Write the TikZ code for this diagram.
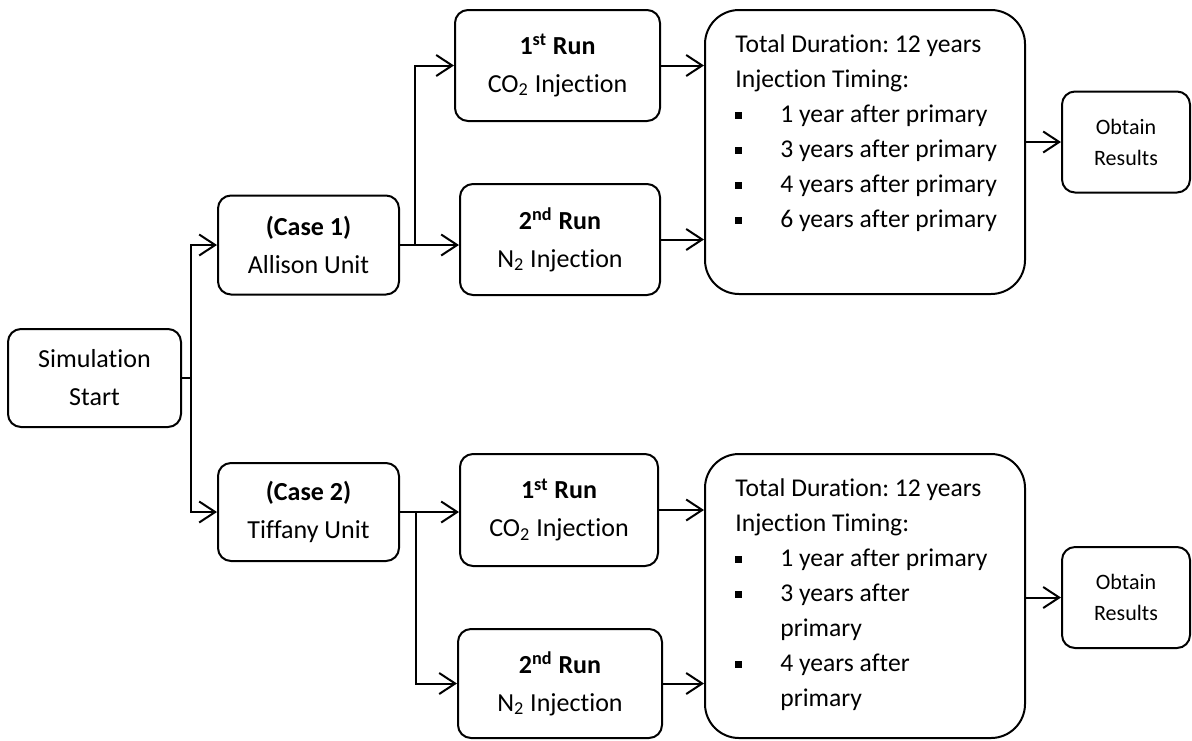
\documentclass[tikz,border=0pt]{standalone}
\usepackage{fontspec}
\setmainfont{Carlito}[Ligatures=CommonOff]
\usetikzlibrary{arrows.meta}
\frenchspacing

\newcommand{\tbul}{\makebox[22.5pt][l]{\rule[1.6pt]{3.4pt}{3.4pt}}}

\tikzset{
  stepbox/.style={draw, line width=1pt, rounded corners=6.5pt, align=center, inner sep=0pt,
    font=\fontsize{13}{19}\selectfont},
  timebox/.style={draw, line width=1pt, rounded corners=17pt, minimum width=160pt, minimum height=142pt},
  timetext/.style={align=left, inner sep=0pt, anchor=north west, font=\fontsize{12.8}{17.5}\selectfont},
  resbox/.style={stepbox, font=\fontsize{11}{15.5}\selectfont, minimum width=64pt, minimum height=50.5pt},
  flow/.style={->, line width=1pt, >={Straight Barb[length=8pt,width=10.5pt,line width=1pt]}}
}

\begin{document}
\begin{tikzpicture}[x=0.5pt,y=-0.5pt]
\useasboundingbox (0,0) rectangle (1192,740);
% start and the two cases
\node[stepbox, minimum width=86.5pt, minimum height=49pt] (start) at (94.5,378) {Simulation\\Start};
\node[stepbox, minimum width=90.5pt, minimum height=49.5pt] (case1) at (308.5,245) {\textbf{(Case 1)}\\Allison Unit};
\node[stepbox, minimum width=90.5pt, minimum height=49pt] (case2) at (308.5,512) {\textbf{(Case 2)}\\Tiffany Unit};
% runs, upper branch
\node[stepbox, minimum width=102.5pt, minimum height=55.5pt] (run1a) at (557.5,65.5) {\textbf{1\textsuperscript{st} Run}\\CO\textsubscript{2} Injection};
\node[stepbox, minimum width=100pt, minimum height=55.5pt] (run2a) at (560,239.5) {\textbf{2\textsuperscript{nd} Run}\\N\textsubscript{2} Injection};
% runs, lower branch
\node[stepbox, minimum width=99pt, minimum height=56pt] (run1b) at (559,510) {\textbf{1\textsuperscript{st} Run}\\CO\textsubscript{2} Injection};
\node[stepbox, minimum width=102pt, minimum height=54.5pt] (run2b) at (560,683.5) {\textbf{2\textsuperscript{nd} Run}\\N\textsubscript{2} Injection};
% timing boxes
\node[timebox] (tima) at (865,152) {};
\node[timetext] (tatxt) at ([xshift=15.5pt,yshift=-12.5pt]tima.north west)
  {Total Duration: 12 years\\Injection Timing:\\\tbul 1 year after primary\\\tbul 3 years after primary\\
   \tbul 4 years after primary\\\tbul 6 years after primary};
\node[timebox] (timb) at (865,596) {};
\node[timetext] (tbtxt) at ([xshift=15.5pt,yshift=-12.5pt]timb.north west)
  {Total Duration: 12 years\\Injection Timing:\\\tbul 1 year after primary\\\tbul 3 years after\\
   \hspace*{22.5pt}primary\\\tbul 4 years after\\\hspace*{22.5pt}primary};
% results
\node[resbox] (resa) at (1126,142) {Obtain\\Results};
\node[resbox] (resb) at (1126,597.5) {Obtain\\Results};

% connectors
\coordinate (fork) at ([xshift=4.5pt]start.east);
\draw[line width=1pt] (start.east) -- (fork);
\draw[flow] (fork) |- (case1.west);
\draw[flow] (fork) |- (case2.west);
\draw[flow] (case1.east) -- ++(15,0) |- (run1a.west);
\draw[flow] (case1.east) -- (case1.east -| run2a.west);
\draw[flow] (case2.east) -- ++(16,0) |- (run2b.west);
\draw[flow] (case2.east) -- (case2.east -| run1b.west);
\draw[flow] (run1a.east) -- (run1a.east -| tima.west);
\draw[flow] (run2a.east) -- (run2a.east -| tima.west);
\draw[flow] (run1b.east) -- (run1b.east -| timb.west);
\draw[flow] (run2b.east) -- (run2b.east -| timb.west);
\draw[flow] (resa.west -| tima.east) -- (resa.west);
\draw[flow] (resb.west -| timb.east) -- (resb.west);
\end{tikzpicture}
\end{document}
